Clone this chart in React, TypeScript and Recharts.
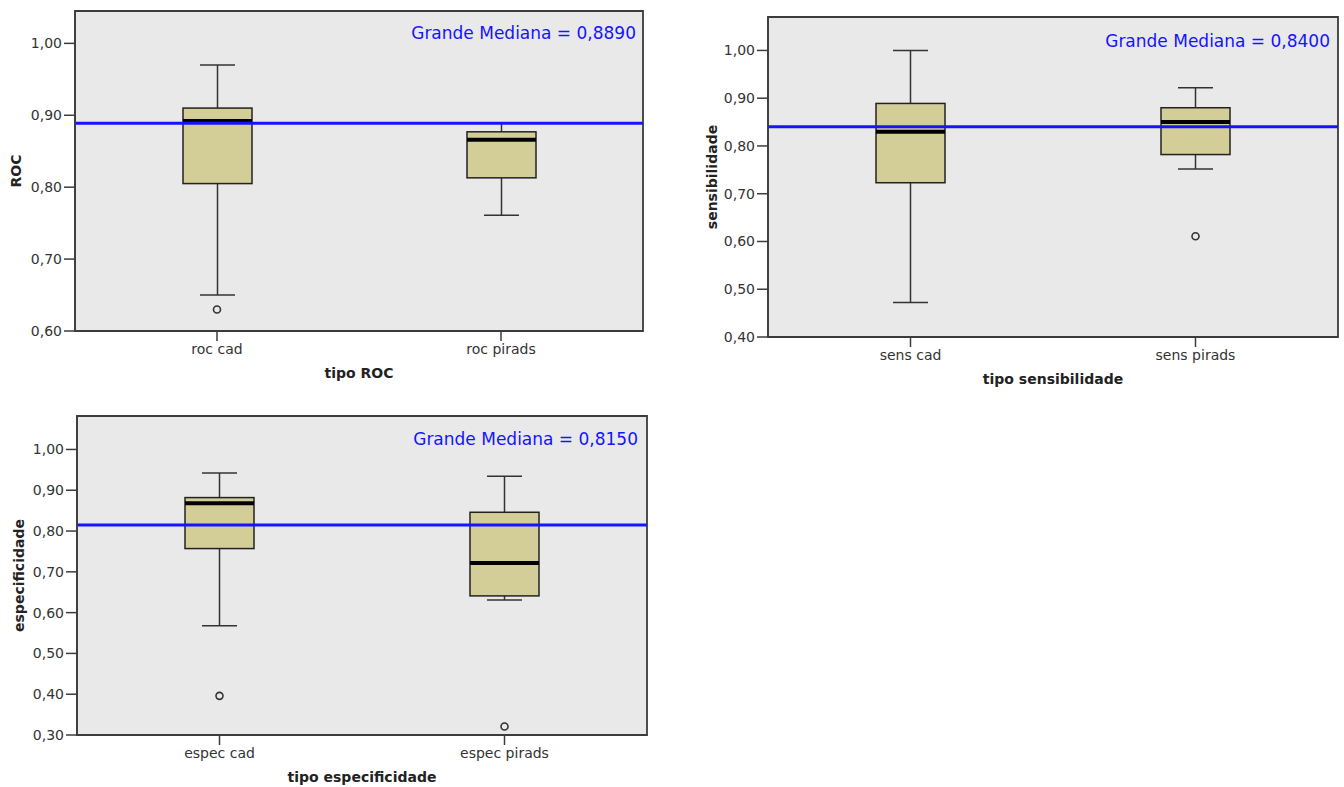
import { Bar, CartesianGrid, ComposedChart, ReferenceArea, ReferenceLine, Scatter, XAxis, YAxis } from "recharts";

// ROC panel
const rocCategories = ["roc cad", "roc pirads"];
const rocMin = [0.65, 0.761];
const rocQ1 = [0.805, 0.813];
const rocMedian = [0.892, 0.866];
const rocQ3 = [0.91, 0.877];
const rocMax = [0.97, 0.889];
const rocOutliers = [{ name: "roc cad", value: 0.63 }];
const rocTicks = [0.6, 0.7, 0.8, 0.9, 1.0];
const rocGrandMedian = 0.889;

// sensibilidade panel
const sensCategories = ["sens cad", "sens pirads"];
const sensMin = [0.472, 0.752];
const sensQ1 = [0.723, 0.782];
const sensMedian = [0.83, 0.85];
const sensQ3 = [0.889, 0.88];
const sensMax = [1.0, 0.922];
const sensOutliers = [{ name: "sens pirads", value: 0.611 }];
const sensTicks = [0.4, 0.5, 0.6, 0.7, 0.8, 0.9, 1.0];
const sensGrandMedian = 0.84;

// especificidade panel
const especCategories = ["espec cad", "espec pirads"];
const especMin = [0.568, 0.631];
const especQ1 = [0.757, 0.641];
const especMedian = [0.868, 0.7215];
const especQ3 = [0.882, 0.846];
const especMax = [0.942, 0.934];
const especOutliers = [
  { name: "espec cad", value: 0.396 },
  { name: "espec pirads", value: 0.321 },
];
const especTicks = [0.3, 0.4, 0.5, 0.6, 0.7, 0.8, 0.9, 1.0];
const especGrandMedian = 0.815;

const FONT = "'DejaVu Sans', sans-serif";
const BG = "#e9e9e9";
const FRAME = "#3c3c3c";
const BOX_FILL = "#d3cd97";
const BLUE = "#1414ff";

type BoxRow = { name: string; min: number; q1: number; median: number; q3: number; max: number };

function buildRows(names: string[], min: number[], q1: number[], median: number[], q3: number[], max: number[]): BoxRow[] {
  return names.map((name, i) => ({ name, min: min[i], q1: q1[i], median: median[i], q3: q3[i], max: max[i] }));
}

const fmt = (v: number) => v.toFixed(2).replace(".", ",");

function BoxShape(props: any) {
  const { x, y, width, height, payload } = props;
  const span = payload.max - payload.min;
  const ppu = span > 0 ? height / span : 0;
  const yOf = (v: number) => y + (payload.max - v) * ppu;
  const cx = x + width / 2;
  const cap = 17.5;
  const top = yOf(payload.q3);
  const bottom = yOf(payload.q1);
  const med = yOf(payload.median);
  return (
    <g>
      <line x1={cx} x2={cx} y1={y} y2={top} stroke="#333" strokeWidth={1.5} />
      <line x1={cx} x2={cx} y1={bottom} y2={y + height} stroke="#333" strokeWidth={1.5} />
      <line x1={cx - cap} x2={cx + cap} y1={y} y2={y} stroke="#333" strokeWidth={1.5} />
      <line x1={cx - cap} x2={cx + cap} y1={y + height} y2={y + height} stroke="#333" strokeWidth={1.5} />
      <rect x={x} y={top} width={width} height={bottom - top} fill={BOX_FILL} stroke="#222" strokeWidth={1.5} />
      <line x1={x} x2={x + width} y1={med} y2={med} stroke="#000" strokeWidth={4} />
    </g>
  );
}

const Outlier = (p: any) => (
  <circle cx={p.cx} cy={p.cy} r={3.5} fill="none" stroke="#333" strokeWidth={1.6} />
);

interface PanelProps {
  left: number;
  top: number;
  width: number;
  height: number;
  margin: { top: number; right: number; bottom: number; left: number };
  yAxisWidth: number;
  yTitleX: number;
  rows: BoxRow[];
  outliers: { name: string; value: number }[];
  ticks: number[];
  domain: [number, number];
  yTitle: string;
  xTitle: string;
  grandMedian: number;
  noteRight: number;
  noteTop: number;
}

function Panel(p: PanelProps) {
  const first = p.rows[0].name;
  const last = p.rows[p.rows.length - 1].name;
  return (
    <div style={{ position: "absolute", left: p.left, top: p.top, width: p.width, height: p.height }}>
      <ComposedChart width={p.width} height={p.height} data={p.rows} margin={p.margin}>
        <CartesianGrid fill={BG} horizontal={false} vertical={false} />
        <XAxis
          dataKey="name"
          type="category"
          allowDuplicatedCategory={false}
          height={50}
          interval={0}
          tickSize={10}
          tickMargin={3}
          axisLine={{ stroke: FRAME, strokeWidth: 1.5 }}
          tickLine={{ stroke: FRAME, strokeWidth: 1.5 }}
          tick={{ fill: "#333", fontSize: 14, fontFamily: FONT }}
          label={{
            content: (lp: any) => {
              const vb = lp.viewBox;
              return (
                <text
                  x={vb.x + vb.width / 2}
                  y={vb.y + 42}
                  textAnchor="middle"
                  dominantBaseline="central"
                  fontFamily={FONT}
                  fontWeight="bold"
                  fontSize={14}
                  fill="#222"
                >
                  {p.xTitle}
                </text>
              );
            },
          }}
        />
        <YAxis
          type="number"
          domain={p.domain}
          ticks={p.ticks}
          allowDataOverflow
          width={p.yAxisWidth}
          tickSize={11}
          tickMargin={2}
          tickFormatter={fmt}
          axisLine={{ stroke: FRAME, strokeWidth: 1.5 }}
          tickLine={{ stroke: FRAME, strokeWidth: 1.5 }}
          tick={{ fill: "#333", fontSize: 14, fontFamily: FONT }}
          label={{
            content: (lp: any) => {
              const vb = lp.viewBox;
              const cx = vb.x + p.yTitleX;
              const cy = vb.y + vb.height / 2;
              return (
                <text
                  x={cx}
                  y={cy}
                  transform={`rotate(-90, ${cx}, ${cy})`}
                  textAnchor="middle"
                  dominantBaseline="central"
                  fontFamily={FONT}
                  fontWeight="bold"
                  fontSize={14}
                  fill="#222"
                >
                  {p.yTitle}
                </text>
              );
            },
          }}
        />
        <Bar dataKey={(d: BoxRow) => [d.min, d.max]} barSize={69} shape={BoxShape} isAnimationActive={false} />
        <Scatter data={p.outliers} dataKey="value" shape={Outlier} isAnimationActive={false} />
        <ReferenceLine y={p.grandMedian} stroke={BLUE} strokeWidth={3} />
        <ReferenceArea
          x1={first}
          x2={last}
          y1={p.domain[0]}
          y2={p.domain[1]}
          fill="none"
          fillOpacity={0}
          stroke={FRAME}
          strokeWidth={1.8}
          ifOverflow="visible"
        />
      </ComposedChart>
      <div
        style={{
          position: "absolute",
          right: p.noteRight,
          top: p.noteTop,
          color: BLUE,
          fontFamily: FONT,
          fontSize: 17,
          lineHeight: "20px",
          whiteSpace: "nowrap",
        }}
      >
        Grande Mediana = {p.grandMedian.toFixed(4).replace(".", ",")}
      </div>
    </div>
  );
}

export default function App() {
  return (
    <div style={{ position: "absolute", left: 0, top: 0, width: 1344, height: 787, background: "#fff" }}>
      <Panel
        left={0}
        top={0}
        width={660}
        height={400}
        margin={{ top: 11, right: 17, bottom: 19, left: 0 }}
        yAxisWidth={75}
        yTitleX={16}
        rows={buildRows(rocCategories, rocMin, rocQ1, rocMedian, rocQ3, rocMax)}
        outliers={rocOutliers}
        ticks={rocTicks}
        domain={[0.6, 1.045]}
        yTitle="ROC"
        xTitle="tipo ROC"
        grandMedian={rocGrandMedian}
        noteRight={24}
        noteTop={23}
      />
      <Panel
        left={690}
        top={0}
        width={654}
        height={400}
        margin={{ top: 17, right: 6, bottom: 13, left: 0 }}
        yAxisWidth={78}
        yTitleX={22}
        rows={buildRows(sensCategories, sensMin, sensQ1, sensMedian, sensQ3, sensMax)}
        outliers={sensOutliers}
        ticks={sensTicks}
        domain={[0.4, 1.07]}
        yTitle="sensibilidade"
        xTitle="tipo sensibilidade"
        grandMedian={sensGrandMedian}
        noteRight={14}
        noteTop={31}
      />
      <Panel
        left={0}
        top={400}
        width={660}
        height={387}
        margin={{ top: 16, right: 13, bottom: 2, left: 0 }}
        yAxisWidth={77}
        yTitleX={19}
        rows={buildRows(especCategories, especMin, especQ1, especMedian, especQ3, especMax)}
        outliers={especOutliers}
        ticks={especTicks}
        domain={[0.3, 1.082]}
        yTitle="especificidade"
        xTitle="tipo especificidade"
        grandMedian={especGrandMedian}
        noteRight={22}
        noteTop={29}
      />
    </div>
  );
}
